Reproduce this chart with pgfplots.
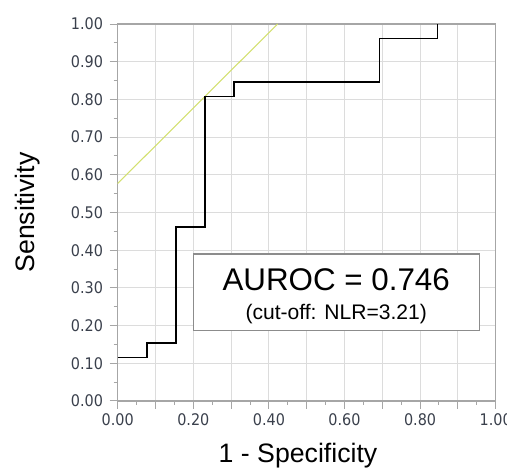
\documentclass[border=0pt]{standalone}
\usepackage{fontspec}
\setmainfont{Liberation Sans}
\newfontfamily\tickfont{DejaVu Sans Condensed}
\usepackage{pgfplots}
\pgfplotsset{compat=1.18}

\definecolor{axisgray}{HTML}{A6A6A6}
\definecolor{gridgray}{HTML}{DCDCDC}
\definecolor{ticktext}{HTML}{3A404C}
\definecolor{youden}{HTML}{D3E070}
\definecolor{boxgray}{HTML}{8C8C8C}

\begin{document}
\begin{tikzpicture}
\begin{axis}[
  scale only axis,
  width=283.5pt,height=282.75pt,
  xmin=0,xmax=1,ymin=0,ymax=1,
  axis line style={axisgray,line width=0.9pt},
  grid=major,
  major grid style={gridgray,line width=0.75pt},
  tick style={axisgray,line width=0.75pt},
  tick align=outside,
  major tick length=6pt,
  minor tick length=3pt,
  xtick={0,0.1,...,1.01},
  xticklabels={0.00,,0.20,,0.40,,0.60,,0.80,,1.00},
  ytick={0,0.1,...,1.01},
  yticklabels={0.00,0.10,0.20,0.30,0.40,0.50,0.60,0.70,0.80,0.90,1.00},
  minor tick num=1,
  xtick pos=bottom, ytick pos=left,
  ticklabel style={font=\tickfont\fontsize{12}{14}\selectfont,text=ticktext},
  yticklabel style={xshift=-1.5pt},
  /pgf/number format/assume math mode=true,
  clip=false,
]
\addplot[youden,line width=0.8pt] coordinates {(0,0.577) (0.423,1.0)};
\addplot[black,line width=1.1pt] coordinates {
  (0,0.1154) (0.0769,0.1154) (0.0769,0.1538) (0.1538,0.1538)
  (0.1538,0.4615) (0.2308,0.4615) (0.2308,0.8077) (0.3077,0.8077)
  (0.3077,0.8462) (0.6923,0.8462) (0.6923,0.9615) (0.8462,0.9615)
  (0.8462,1.0)};
\draw[boxgray,line width=0.8pt,fill=white] (axis cs:0.2,0.188) rectangle (axis cs:0.957,0.39);
\node[anchor=base,font=\fontsize{23.5}{26}\selectfont] at (axis cs:0.578,0.292) {AUROC = 0.746};
\node[anchor=base,font=\fontsize{15.8}{18}\selectfont] at (axis cs:0.578,0.217) {(cut-off: NLR=3.21)};
\node[anchor=base,font=\fontsize{20}{22}\selectfont] at (axis cs:0.477,-0.162) {1 - Specificity};
\node[anchor=base,rotate=90,font=\fontsize{20}{22}\selectfont] at (axis cs:-0.221,0.5) {Sensitivity};
\coordinate (bl) at (axis cs:-0.3114,-0.1804);
\coordinate (tr) at (axis cs:1.0299,1.0637);
\end{axis}
\pgfresetboundingbox
\path[use as bounding box] (bl) rectangle (tr);
\end{tikzpicture}
\end{document}
